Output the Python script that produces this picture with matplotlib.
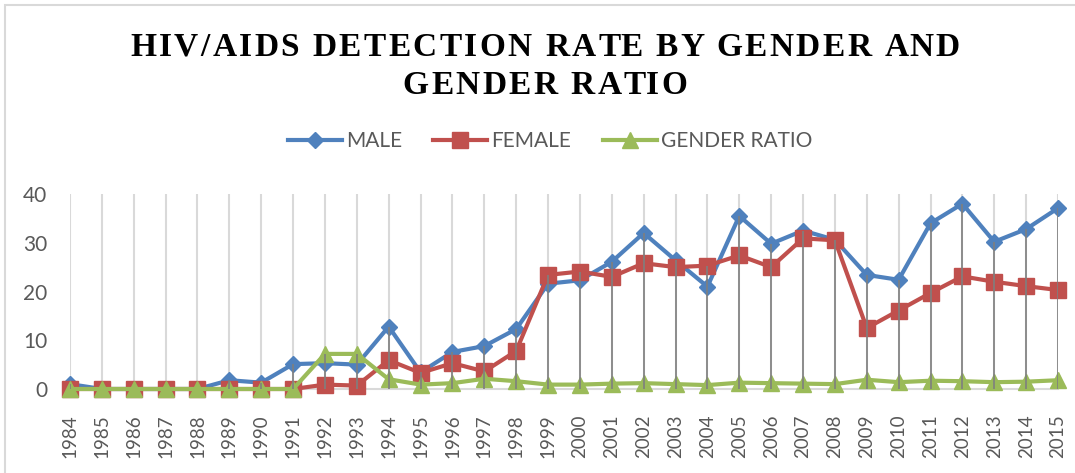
import matplotlib
matplotlib.use('Agg')
import matplotlib.pyplot as plt
from matplotlib.lines import Line2D
from matplotlib.patches import Rectangle
from matplotlib.font_manager import FontProperties
import numpy as np

years = list(range(1984, 2016))
male = [1.0, 0, 0, 0, 0, 1.8, 1.3, 5.1, 5.3, 5.0, 12.8, 3.4, 7.6, 8.8, 12.3,
        21.6, 22.3, 26.1, 32.0, 26.4, 21.0, 35.5, 29.8, 32.5, 30.6, 23.4,
        22.4, 34.0, 38.0, 30.2, 32.8, 37.1]
female = [0, 0, 0, 0, 0, 0, 0, 0, 0.9, 0.7, 5.9, 3.3, 5.3, 3.6, 7.8,
          23.4, 24.1, 23.0, 25.8, 25.0, 25.3, 27.4, 25.0, 30.9, 30.5, 12.5,
          16.1, 19.7, 23.1, 22.0, 21.1, 20.3]
ratio = [0, 0, 0, 0, 0, 0, 0, 0, 7.2, 7.2, 2.0, 0.9, 1.2, 2.1, 1.6,
         0.9, 0.9, 1.1, 1.2, 1.0, 0.8, 1.3, 1.2, 1.1, 1.0, 1.9,
         1.4, 1.7, 1.6, 1.4, 1.5, 1.8]
series_names = ['MALE', 'FEMALE', 'GENDER RATIO']
title_lines = ['HIV/AIDS DETECTION RATE BY GENDER AND', 'GENDER RATIO']

blue, red, green = '#4F81BD', '#C0504D', '#9BBB59'
gray_txt = '#595959'
light = '#D9D9D9'

W, H = 1075, 473
fig = plt.figure(figsize=(W / 100, H / 100), dpi=100)
ax = fig.add_axes([70 / W, 1 - 389 / H, 988 / W, 195 / H])

ax.plot(years, male, color=blue, lw=3, marker='D', ms=8.5, zorder=3, clip_on=False)
ax.plot(years, female, color=red, lw=3, marker='s', ms=11.5, zorder=3, clip_on=False)
ax.plot(years, ratio, color=green, lw=3, marker='^', ms=12, zorder=4, clip_on=False)

# drop lines from highest series down to axis
top = np.max([male, female, ratio], axis=0)
ax.vlines(years, 0, top, colors='#7F7F7F', lw=1.2, zorder=6)

ax.set_xlim(1984, 2015)
ax.set_ylim(0, 40)
ax.set_yticks([0, 10, 20, 30, 40])
ax.set_xticks(years)
ax.set_xticklabels([str(y) for y in years], rotation=90, fontsize=13.5,
                   family='Lato', color=gray_txt)
for lab in ax.get_yticklabels():
    lab.set_fontsize(15)
    lab.set_family('Lato')
    lab.set_color(gray_txt)
ax.tick_params(axis='y', length=0, pad=16.5)
ax.tick_params(axis='x', length=0, pad=18)
ax.grid(axis='x', color=light, lw=1.5, zorder=0)
for s in ['top', 'right', 'left']:
    ax.spines[s].set_visible(False)
ax.spines['bottom'].set_color(light)
ax.spines['bottom'].set_linewidth(1.5)
ax.set_axisbelow(True)

# title with wide letter spacing, drawn char by char
fp = FontProperties(family='Liberation Serif', weight='bold', size=24)
renderer = fig.canvas.get_renderer()


def adv(s):
    w1, _, _ = renderer.get_text_width_height_descent(s + 'I', fp, ismath=False)
    w2, _, _ = renderer.get_text_width_height_descent('I', fp, ismath=False)
    return w1 - w2


spacing = 2.4
for line, yc in zip(title_lines, [44, 82]):
    total = adv(line) + spacing * (len(line) - 1)
    x0 = 545 - total / 2
    for i, ch in enumerate(line):
        if ch == ' ':
            continue
        x = x0 + adv(line[:i]) + spacing * i
        fig.text(x / W, 1 - yc / H, ch, fontproperties=fp, ha='left',
                 va='center_baseline', color='black')

handles = [
    Line2D([], [], color=blue, lw=3, marker='D', ms=8.5),
    Line2D([], [], color=red, lw=3, marker='s', ms=11.5),
    Line2D([], [], color=green, lw=3, marker='^', ms=12),
]
fig.legend(handles, series_names, loc='center', bbox_to_anchor=(550 / W, 1 - 141 / H),
           ncol=3, frameon=False, handlelength=2.6, handletextpad=0.2,
           columnspacing=1.5, prop={'family': 'Lato', 'size': 15}, labelcolor=gray_txt)

fig.patches.append(Rectangle((5.5 / W, -0.1), 1.2, 1.1 - 5.5 / H,
                             transform=fig.transFigure, fill=False,
                             edgecolor=light, lw=1.5))

fig.savefig('out.png', dpi=100)
